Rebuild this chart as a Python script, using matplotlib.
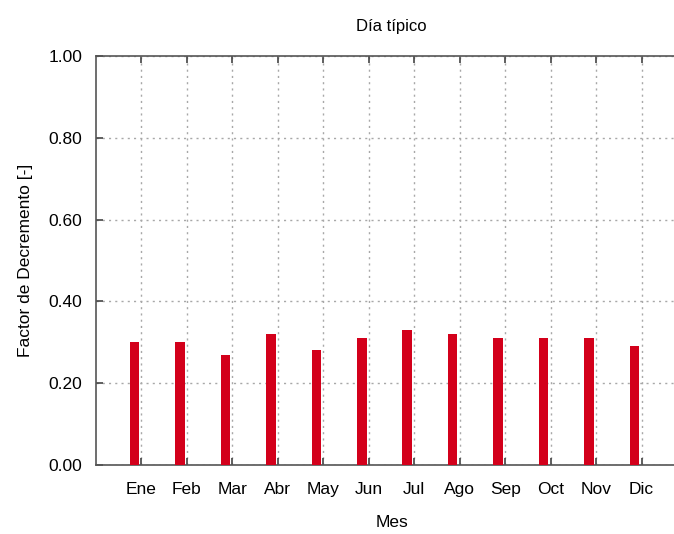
import numpy as np
import matplotlib.pyplot as plt

plt.rcParams['font.family'] = ['Liberation Sans', 'DejaVu Sans']

meses = ['Ene', 'Feb', 'Mar', 'Abr', 'May', 'Jun', 'Jul', 'Ago', 'Sep', 'Oct', 'Nov', 'Dic']
factor = [0.30, 0.30, 0.27, 0.32, 0.28, 0.31, 0.33, 0.32, 0.31, 0.31, 0.31, 0.29]
yticks = [0.0, 0.2, 0.4, 0.6, 0.8, 1.0]

x = np.arange(1, len(meses) + 1)

fig = plt.figure(figsize=(6.74, 5.34), dpi=100)
ax = fig.add_axes([0.1424, 0.1292, 0.877, 0.766])

# barras desplazadas a la izquierda del tick, estilo gnuplot
ax.bar(x - 0.26, factor, width=0.21, align='edge', color='#d3001b', zorder=3)

ax.set_xlim(0, 13)
ax.set_ylim(0, 1)
ax.set_xticks(x)
ax.set_xticklabels(meses)
ax.set_yticks(yticks)
ax.set_yticklabels(['%.2f' % v for v in yticks])

ax.grid(True, color='#a8a8a8', linestyle=(0, (1.5, 3)), linewidth=1.0, zorder=0)
ax.tick_params(direction='in', length=5, width=1.2, color='#444444',
               labelsize=12.5, top=True, pad=10)
ax.tick_params(axis='x', pad=12)
for s in ax.spines.values():
    s.set_color('#555555')
    s.set_linewidth(1.2)

ax.set_xlabel('Mes', fontsize=12.5, labelpad=13)
ax.set_ylabel('Factor de Decremento [-]', fontsize=12.5, labelpad=11)
ax.set_title('Día típico', fontsize=12, pad=18)

fig.savefig('out.png', dpi=100)
